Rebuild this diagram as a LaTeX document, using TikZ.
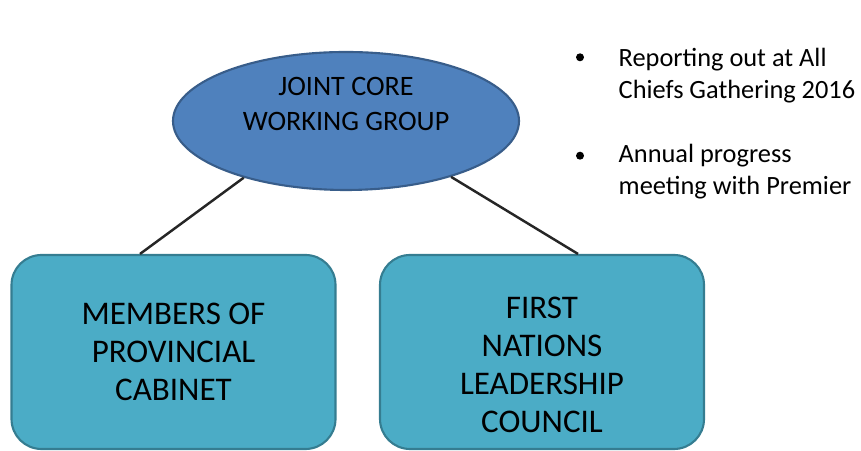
\documentclass[tikz,border=0pt]{standalone}
\usepackage{fontspec}
\setmainfont{Carlito}
\usetikzlibrary{shapes.geometric}
\definecolor{corefill}{HTML}{4F81BD}
\definecolor{coreline}{HTML}{385D8A}
\definecolor{boxfill}{HTML}{4BACC6}
\definecolor{boxline}{HTML}{357D91}
\begin{document}
\begin{tikzpicture}[
        core/.style={ellipse, draw=coreline, fill=corefill, line width=0.6pt, minimum width=3.46cm, minimum height=1.38cm, inner sep=0pt},
        member/.style={rounded corners=0.3cm, draw=boxline, fill=boxfill, line width=0.6pt, minimum width=3.24cm, minimum height=1.94cm, inner sep=0pt},
        coretext/.style={align=center, font=\fontsize{8}{10.2}\selectfont, inner sep=0pt},
        membertext/.style={align=center, font=\fontsize{9.4}{10.8}\selectfont, inner sep=0pt},
        dot/.style={circle, fill=black, inner sep=0pt, minimum size=0.08cm},
        note/.style={align=left, anchor=base west, font=\fontsize{7.5}{9.1}\selectfont, inner sep=0pt},
        link/.style={line width=0.7pt, black!85}
    ]
        \useasboundingbox (0,0) rectangle (8.61,4.51);
        \node[core] (jcwg) at (3.46,3.30) {};
        \node[coretext] (jcwgtext) at ([yshift=0.17cm]jcwg.center) {JOINT CORE\\WORKING GROUP};
        \node[member] (mpc) at (1.735,0.99) {};
        \node[membertext] (mpctext) at (mpc.center) {MEMBERS OF\\PROVINCIAL\\CABINET};
        \node[member] (fnlc) at (5.42,0.99) {};
        \node[membertext] (fnlctext) at ([yshift=-0.13cm]fnlc.center) {FIRST\\NATIONS\\LEADERSHIP\\COUNCIL};
        \draw[link] (jcwg.209) -- ([xshift=-0.335cm]mpc.north);
        \draw[link] (jcwg.332) -- ([xshift=0.36cm]fnlc.north);
        % bullet list beside the group
        \node[dot] (dot1) at (5.80,3.937) {};
        \node[dot] (dot2) at (5.80,2.953) {};
        \node[note] (chiefs) at (6.18,3.523) {Reporting out at All\\Chiefs Gathering 2016};
        \node[note] (premier) at (6.18,2.567) {Annual progress\\meeting with Premier};
    \end{tikzpicture}
\end{document}
